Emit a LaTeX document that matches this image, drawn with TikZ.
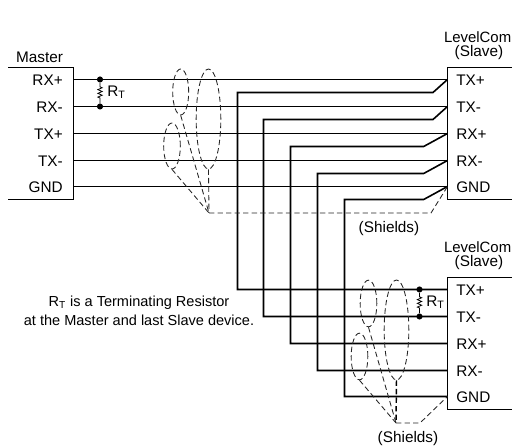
\documentclass[tikz,border=0pt]{standalone}
\usepackage{fontspec}
\setmainfont{Liberation Sans}
\usetikzlibrary{shapes.geometric,decorations.pathmorphing}

\tikzset{
  wire/.style={line width=1.2pt,line join=miter},
  shield/.style={line width=0.65pt,dashed,dash pattern=on 4pt off 2.4pt,black!85},
  sheath/.style={shield,ellipse,draw,inner sep=0pt},
  pin/.style={font=\fontsize{11.5}{13}\selectfont,inner sep=0pt},
  slavetitle/.style={font=\fontsize{11.2}{13}\selectfont,inner sep=0pt},
  dot/.style={circle,fill=black,inner sep=0pt,minimum size=4.6pt},
  resistor/.style={line width=0.6pt,decorate,decoration={zigzag,amplitude=1.6pt,segment length=2.8pt,pre length=3pt,post length=3pt}}
}

\begin{document}
\begin{tikzpicture}[x=0.75pt,y=-0.75pt]
  \useasboundingbox (0,0) rectangle (512,448);

  % master end
  \node[pin,anchor=south] (mastertitle) at (39.5,63) {Master};
  \node[pin,anchor=east] (mrxp) at (63,80) {RX+};
  \node[pin,anchor=east] (mrxn) at (63,107) {RX-};
  \node[pin,anchor=east] (mtxp) at (63,134) {TX+};
  \node[pin,anchor=east] (mtxn) at (63,161) {TX-};
  \node[pin,anchor=east] (mgnd) at (63,187) {GND};
  \coordinate (mtl) at (8,67.5);
  \coordinate (mtr) at (73.5,67.5);
  \coordinate (mbr) at (73.5,199.5);
  \coordinate (mbl) at (8,199.5);
  \coordinate (m1) at (73.5,79.5);
  \coordinate (m2) at (73.5,106.5);
  \coordinate (m3) at (73.5,133.5);
  \coordinate (m4) at (73.5,160.5);
  \coordinate (m5) at (73.5,186.5);
  \draw[wire] (mtl) -- (mtr) -- (mbr) -- (mbl);

  % first slave
  \node[slavetitle,anchor=east] (atitle) at (511.5,37) {LevelCom};
  \node[pin] (aslave) at (479,53) {(Slave)};
  \node[pin,anchor=west] (atxp) at (456,80) {TX+};
  \node[pin,anchor=west] (atxn) at (456,107) {TX-};
  \node[pin,anchor=west] (arxp) at (456,134) {RX+};
  \node[pin,anchor=west] (arxn) at (456,161) {RX-};
  \node[pin,anchor=west] (agnd) at (456,187) {GND};
  \coordinate (atr) at (512,67.5);
  \coordinate (atl) at (447.5,67.5);
  \coordinate (abl) at (447.5,199.5);
  \coordinate (abr) at (512,199.5);
  \coordinate (a1) at (447.5,79.5);
  \coordinate (a2) at (447.5,106.5);
  \coordinate (a3) at (447.5,133.5);
  \coordinate (a4) at (447.5,160.5);
  \coordinate (a5) at (447.5,186.5);
  \draw[wire] (atr) -- (atl) -- (abl) -- (abr);

  % second slave
  \node[slavetitle,anchor=east] (btitle) at (511.5,247) {LevelCom};
  \node[pin] (bslave) at (479,263) {(Slave)};
  \node[pin,anchor=west] (btxp) at (456,290) {TX+};
  \node[pin,anchor=west] (btxn) at (456,317) {TX-};
  \node[pin,anchor=west] (brxp) at (456,344) {RX+};
  \node[pin,anchor=west] (brxn) at (456,371) {RX-};
  \node[pin,anchor=west] (bgnd) at (456,397) {GND};
  \coordinate (btr) at (512,277.5);
  \coordinate (btl) at (447.5,277.5);
  \coordinate (bbl) at (447.5,409.5);
  \coordinate (bbr) at (512,409.5);
  \coordinate (b1) at (447.5,289.5);
  \coordinate (b2) at (447.5,316.5);
  \coordinate (b3) at (447.5,343.5);
  \coordinate (b4) at (447.5,370.5);
  \coordinate (b5) at (447.5,396.5);
  \draw[wire] (btr) -- (btl) -- (bbl) -- (bbr);

  % straight runs
  \path[wire]
  (m1) edge (a1)
  (m2) edge (a2)
  (m3) edge (a3)
  (m4) edge (a4)
  (m5) edge (a5);

  % runs on to the second slave
  \draw[wire] (a1) -- (433,92.5) -- (237.5,92.5) -- (237.5,289.5) -- (b1);
  \draw[wire] (a2) -- (433,119.5) -- (263.5,119.5) -- (263.5,316.5) -- (b2);
  \draw[wire] (a3) -- (423.7,146.5) -- (290.5,146.5) -- (290.5,343.5) -- (b3);
  \draw[wire] (a4) -- (423.7,173.5) -- (317.5,173.5) -- (317.5,370.5) -- (b4);
  \draw[wire] (a5) -- (423.7,199.5) -- (344.5,199.5) -- (344.5,396.5) -- (b5);

  % terminating resistors
  \node[dot] (mra) at (100,79.5) {};
  \node[dot] (mrb) at (100,106.5) {};
  \draw[resistor] (mra) -- (mrb);
  \node[pin,anchor=west] (mrt) at (107,92.5) {R\textsubscript{T}};
  \node[dot] (bra) at (419.5,289.5) {};
  \node[dot] (brb) at (419.5,316.5) {};
  \draw[resistor] (bra) -- (brb);
  \node[pin,anchor=west] (brt) at (426,302.5) {R\textsubscript{T}};

  % shields, first slave
  \node[sheath,minimum width=12pt,minimum height=34.5pt] (sa1) at (180.7,92) {};
  \node[sheath,minimum width=18.5pt,minimum height=75pt] (sa2) at (208.5,119) {};
  \node[sheath,minimum width=12.5pt,minimum height=34.5pt] (sa3) at (172,146) {};
  \coordinate (sajoin) at (209,213);
  \coordinate (saend) at (431,213);
  \draw[shield] (sa1.south) -- (sajoin);
  \draw[shield] (sa2.south) -- (sajoin);
  \draw[shield] (sa3.south) -- (sajoin);
  \draw[shield] (sajoin) -- (saend) -- (a5);
  \node[pin] (sashields) at (389,229) {(Shields)};

  % shields, second slave
  \node[sheath,minimum width=12.5pt,minimum height=35pt] (sb1) at (368.5,303.5) {};
  \node[sheath,minimum width=18.5pt,minimum height=75pt] (sb2) at (396.5,330) {};
  \node[sheath,minimum width=12.5pt,minimum height=35pt] (sb3) at (359.5,356.5) {};
  \coordinate (sbjoin) at (396,423);
  \coordinate (sbend) at (420,423);
  \draw[shield] (sb1.south) -- (sbjoin);
  \draw[shield,line width=1.1pt,black] (sb2.south) -- (sbjoin);
  \draw[shield] (sb3.south) -- (sbjoin);
  \draw[shield] (sbjoin) -- (sbend) -- (b5);
  \node[pin] (sbshields) at (408,439) {(Shields)};

  % note
  \node[pin,align=center,font=\fontsize{10.9}{14.2}\selectfont] (note) at (139,310.5)
  {R\textsubscript{T} is a Terminating Resistor\\at the Master and last Slave device.};
\end{tikzpicture}
\end{document}
